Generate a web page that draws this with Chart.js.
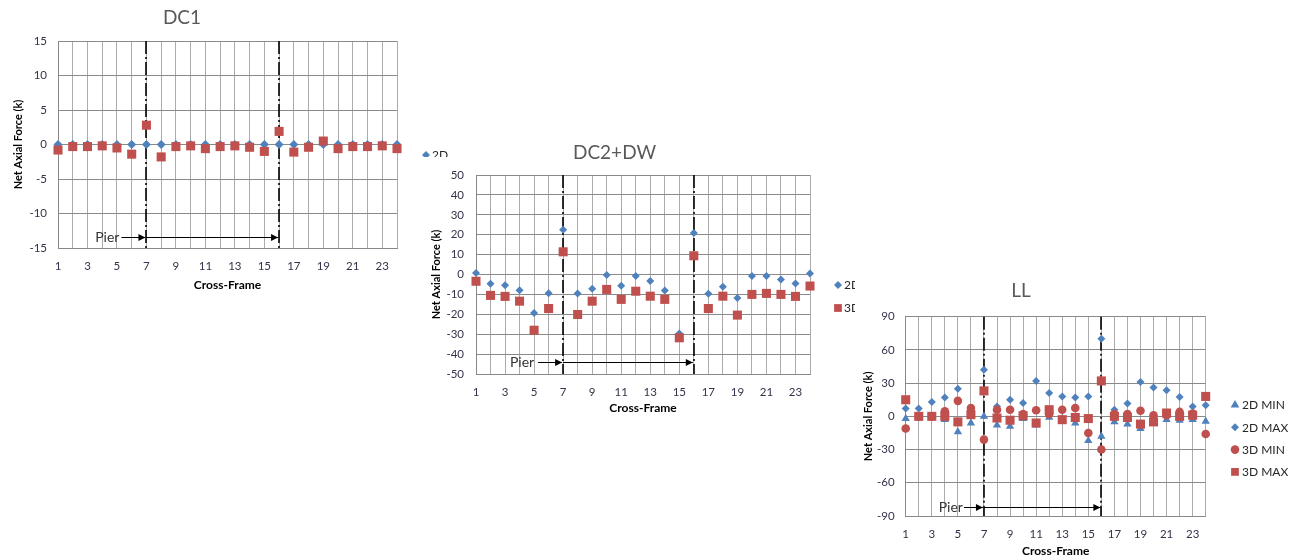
<!DOCTYPE html>
<html><head><meta charset="utf-8">
<script src="https://cdn.jsdelivr.net/npm/chart.js@4.4.1/dist/chart.umd.min.js"></script>
<style>
html,body{margin:0;padding:0;background:#fff;overflow:hidden;width:1292px;height:556px;}
canvas{position:absolute;display:block;}
</style></head><body>
<canvas id="c1" width="460" height="300" style="left:0;top:0"></canvas>
<canvas id="c2" width="450" height="285" style="left:418px;top:140px"></canvas>
<canvas id="c3" width="437" height="300" style="left:855px;top:270px"></canvas>
<script>
// ---------- DATA ----------
const crossFrames = [1,2,3,4,5,6,7,8,9,10,11,12,13,14,15,16,17,18,19,20,21,22,23,24];
const xTickLabels = ['1','3','5','7','9','11','13','15','17','19','21','23'];
const pierFrames = [7,16];

const dc1Title = 'DC1';
const dc1_2D = [0,0,0,0,0,0,0,0,0,0,0,0,0,0,0,0,0,0,0,0,0,0,0,0];
const dc1_3D = [-0.8,-0.3,-0.3,-0.2,-0.5,-1.4,2.8,-1.8,-0.3,-0.2,-0.6,-0.3,-0.2,-0.4,-1.0,1.9,-1.1,-0.4,0.5,-0.6,-0.3,-0.3,-0.2,-0.6];

const dc2Title = 'DC2+DW';
const dc2_2D = [0.8,-4.7,-5.4,-7.9,-19.4,-9.4,22.5,-9.5,-7.2,-0.3,-5.7,-0.8,-3.3,-8.0,-29.6,20.8,-9.7,-6.2,-11.8,-0.8,-0.8,-2.5,-4.5,0.5];
const dc2_3D = [-3.4,-10.5,-11,-13.4,-28,-17.1,11.4,-20.1,-13.4,-7.5,-12.5,-8.4,-10.9,-12.5,-31.8,9.4,-17.1,-10.9,-20.4,-10,-9.5,-10,-11,-5.8];

const llTitle = 'LL';
const ll_2DMin = [-2,-1,-1,-3,-14,-6,0,-8,-9,-2,-8,-1,-2,-6,-22,-18,-5,-7,-11,-4,-3,-3.5,-3,-4.5];
const ll_2DMax = [7,7,13,17,25,5,42,9,15,12,32,21,18,17,18,70,6,11.5,31,26,23.5,17.5,9,10];
const ll_3DMin = [-11,0,0,4.5,14,7.5,-21,6,6,2,5.5,2,6,7.5,-15,-30,2,2,5,1,1,4,2.5,-16];
const ll_3DMax = [15,0,0,0,-5,1.5,23,-1.5,-3.5,0.5,-6,6,-3,-1,-2,32,0,-1,-7,-5,3,0,1,18];

// ---------- STYLE ----------
const BLUE = '#4F81BD', RED = '#C0504D';
const FONT = "Lato, 'Open Sans', 'Liberation Sans', sans-serif";
const TICK_COLOR = '#33334a';

function pts(arr){ return crossFrames.map((x,i)=>({x:x, y:arr[i]})); }

function marker(ctx, style, x, y, r, color){
  ctx.save(); ctx.fillStyle = color; ctx.beginPath();
  if (style === 'rectRot'){ ctx.moveTo(x,y-r); ctx.lineTo(x+r,y); ctx.lineTo(x,y+r); ctx.lineTo(x-r,y); }
  else if (style === 'rect'){ const s = r*Math.SQRT1_2; ctx.rect(x-s,y-s,2*s,2*s); }
  else if (style === 'circle'){ ctx.arc(x,y,r,0,Math.PI*2); }
  else if (style === 'triangle'){ ctx.moveTo(x,y-r); ctx.lineTo(x+r*0.866,y+r*0.5); ctx.lineTo(x-r*0.866,y+r*0.5); }
  ctx.closePath(); ctx.fill(); ctx.restore();
}

function arrowHead(ctx, x, y){
  ctx.beginPath(); ctx.moveTo(x,y); ctx.lineTo(x-7,y-3.5); ctx.lineTo(x-7,y+3.5); ctx.closePath(); ctx.fill();
}

function makeChart(id, spec){
  const canvas = document.getElementById(id);
  const W = canvas.width, H = canvas.height, A = spec.area;
  const extras = {
    id: 'extras'+id,
    beforeDraw(chart){
      const ctx = chart.ctx; ctx.save(); ctx.fillStyle = '#fff';
      ctx.fillRect(0, spec.bgTop, W, H - spec.bgTop); ctx.restore();
    },
    beforeDatasetsDraw(chart){
      const ctx = chart.ctx, ca = chart.chartArea, xs = chart.scales.x;
      ctx.save();
      ctx.strokeStyle = '#000'; ctx.lineWidth = 1.6; ctx.setLineDash([13,3,2,3]);
      pierFrames.forEach(p=>{
        const px = Math.round(xs.getPixelForValue(p));
        ctx.beginPath(); ctx.moveTo(px, ca.top); ctx.lineTo(px, ca.bottom); ctx.stroke();
      });
      ctx.setLineDash([]);
      const p1 = xs.getPixelForValue(pierFrames[0]), p2 = xs.getPixelForValue(pierFrames[1]);
      const ay = Math.round(ca.bottom - spec.pier.yOff) + 0.5;
      ctx.lineWidth = 1; ctx.fillStyle = '#000';
      ctx.beginPath(); ctx.moveTo(p1 + spec.pier.arrowFrom, ay); ctx.lineTo(p1-1, ay); ctx.stroke();
      arrowHead(ctx, p1-1, ay);
      ctx.beginPath(); ctx.moveTo(p1, ay); ctx.lineTo(p2-1, ay); ctx.stroke();
      arrowHead(ctx, p2-1, ay);
      ctx.font = '14px ' + FONT; ctx.textAlign = 'right'; ctx.textBaseline = 'middle';
      ctx.fillStyle = '#333333';
      ctx.fillText('Pier', p1 + spec.pier.textRight, ay);
      ctx.restore();
    },
    afterDraw(chart){
      const ctx = chart.ctx; ctx.save();
      ctx.font = spec.titleSize + 'px ' + FONT; ctx.fillStyle = '#595959';
      ctx.textAlign = 'center'; ctx.textBaseline = 'middle';
      ctx.fillText(spec.title, spec.titlePos[0], spec.titlePos[1]);
      ctx.font = spec.legendFont + 'px ' + FONT;
      ctx.textAlign = 'left';
      spec.datasets.forEach((d,i)=>{
        const lx = spec.legend.x, ly = spec.legend.y + i*spec.legend.dy;
        marker(ctx, d.style, lx, ly, d.legendR, d.color);
        ctx.fillStyle = '#262626';
        ctx.fillText(d.label, lx + spec.legend.textGap, ly + 0.5);
      });
      ctx.restore();
    }
  };
  return new Chart(canvas, {
    type: 'scatter',
    data: { datasets: spec.datasets.map(d=>({
      label: d.label, data: pts(d.values), order: d.order,
      pointStyle: d.style, pointRadius: d.r, pointHoverRadius: d.r,
      pointBackgroundColor: d.color, pointBorderWidth: 0, borderWidth: 0,
      backgroundColor: d.color, borderColor: d.color, showLine: false, clip: false
    }))},
    options: {
      responsive: false, animation: false, devicePixelRatio: 1,
      events: [],
      layout: { padding: { left: 0, top: A.top, right: W - A.right, bottom: 0 } },
      plugins: { legend: { display: false }, tooltip: { enabled: false }, title: { display: false } },
      scales: {
        x: {
          type: 'linear', min: crossFrames[0], max: crossFrames[crossFrames.length-1],
          afterBuildTicks: s => { s.ticks = crossFrames.map(v=>({value:v})); },
          ticks: { autoSkip: false, maxRotation: 0, padding: spec.xTickPad, color: TICK_COLOR,
                   font: { family: FONT, size: 11.5 },
                   callback: v => xTickLabels.includes(String(v)) ? String(v) : '' },
          grid: { color: '#ababab', lineWidth: 1, drawTicks: false },
          border: { color: '#888888' },
          title: { display: true, text: 'Cross-Frame', color: '#000',
                   font: { family: FONT, size: 12, weight: 'bold' }, padding: { top: 0, bottom: spec.xTitlePad } },
          afterFit: s => { s.height = H - A.bottom; }
        },
        y: {
          min: spec.yMin, max: spec.yMax,
          ticks: { stepSize: spec.yStep, padding: spec.yTickPad, color: TICK_COLOR,
                   font: { family: FONT, size: 11.5 } },
          grid: { color: '#8a8a8a', lineWidth: 1, drawTicks: false },
          border: { color: '#888888' },
          title: { display: true, text: 'Net Axial Force (k)', color: '#000',
                   font: { family: FONT, size: 11, weight: 'bold' }, padding: { top: spec.yTitlePad, bottom: 0 } },
          afterFit: s => { s.width = A.left; }
        }
      }
    },
    plugins: [extras]
  });
}

makeChart('c1', {
  area: { left: 58, top: 41, right: 397, bottom: 248 }, bgTop: 0,
  yMin: -15, yMax: 15, yStep: 5,
  xTickPad: 11, yTickPad: 11, xTitlePad: 7.5, yTitlePad: 11.5,
  title: dc1Title, titleSize: 19, titlePos: [182, 18],
  legend: { x: 426, y: 155, dy: 23, textGap: 6 }, legendFont: 12,
  pier: { yOff: 11, textRight: -27, arrowFrom: -25 },
  datasets: [
    { label: '2D', values: dc1_2D, style: 'rectRot', r: 4.5, legendR: 4, color: BLUE, order: 1 },
    { label: '3D', values: dc1_3D, style: 'rect', r: 6.4, legendR: 5.5, color: RED, order: 0 }
  ]
});

makeChart('c2', {
  area: { left: 58, top: 35, right: 392, bottom: 234 }, bgTop: 17,
  yMin: -50, yMax: 50, yStep: 10,
  xTickPad: 11, yTickPad: 12, xTitlePad: 9.5, yTitlePad: 12,
  title: dc2Title, titleSize: 19, titlePos: [196.5, 13],
  legend: { x: 420, y: 145, dy: 23, textGap: 6 }, legendFont: 12,
  pier: { yOff: 12.5, textRight: -29, arrowFrom: -25 },
  datasets: [
    { label: '2D', values: dc2_2D, style: 'rectRot', r: 4, legendR: 4, color: BLUE, order: 1 },
    { label: '3D', values: dc2_3D, style: 'rect', r: 6.4, legendR: 5.5, color: RED, order: 0 }
  ]
});

makeChart('c3', {
  area: { left: 50.7, top: 46.7, right: 350.7, bottom: 246 }, bgTop: 0,
  yMin: -90, yMax: 90, yStep: 30,
  xTickPad: 11, yTickPad: 11, xTitlePad: 11.5, yTitlePad: 7,
  title: llTitle, titleSize: 19, titlePos: [166, 21],
  legend: { x: 380, y: 135, dy: 22.3, textGap: 7 }, legendFont: 12,
  pier: { yOff: 9.5, textRight: -21, arrowFrom: -20 },
  datasets: [
    { label: '2D MIN', values: ll_2DMin, style: 'triangle', r: 4.8, legendR: 5, color: BLUE, order: 3 },
    { label: '2D MAX', values: ll_2DMax, style: 'rectRot', r: 4, legendR: 4, color: BLUE, order: 2 },
    { label: '3D MIN', values: ll_3DMin, style: 'circle', r: 4.3, legendR: 4.3, color: RED, order: 1 },
    { label: '3D MAX', values: ll_3DMax, style: 'rect', r: 6.4, legendR: 5.5, color: RED, order: 0 }
  ]
});
</script>
</body></html>
